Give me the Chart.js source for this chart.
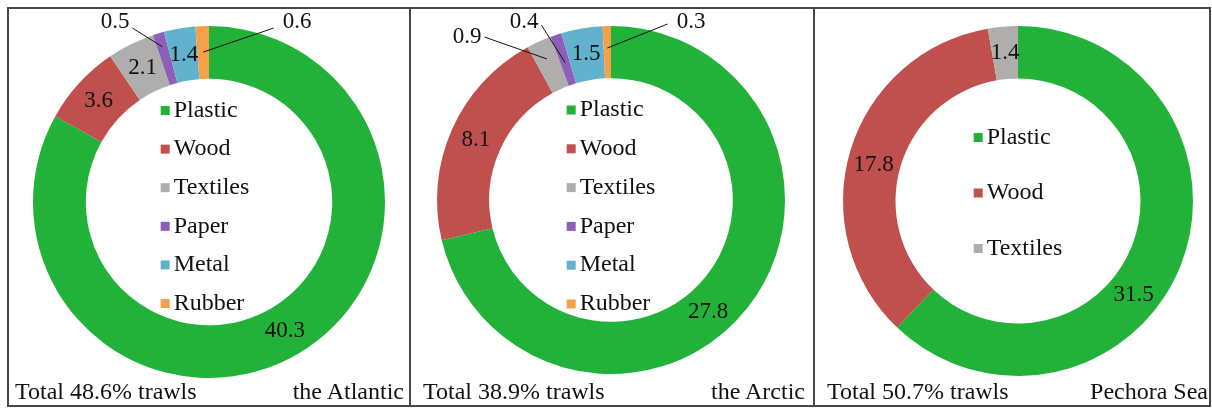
<!DOCTYPE html>
<html>
<head>
<meta charset="utf-8">
<script src="https://cdn.jsdelivr.net/npm/chart.js@4.4.1/dist/chart.umd.min.js"></script>
<style>
  body { margin: 0; background: #fff; }
  #wrap { position: relative; width: 1212px; height: 410px; overflow: hidden; }
  .frame { position: absolute; left: 7px; top: 7px; width: 1204px; height: 400px; box-sizing: border-box; border: 2px solid #474747; }
  .divider { position: absolute; top: 7px; width: 2px; height: 400px; background: #474747; }
  canvas { position: absolute; top: 9px; }
  .cap { position: absolute; top: 379px; font: 24px "Liberation Serif", "Times New Roman", serif; line-height: 24px; color: #111; white-space: nowrap; }
</style>
</head>
<body>
<div id="wrap">
  <div class="frame"></div>
  <div class="divider" style="left:409px"></div>
  <div class="divider" style="left:813px"></div>
  <canvas id="c0" width="400" height="396" style="left:9px"></canvas>
  <canvas id="c1" width="402" height="396" style="left:411px"></canvas>
  <canvas id="c2" width="394" height="396" style="left:815px"></canvas>
</div>
<script>
// data (% of trawls)
const materials = ['Plastic', 'Wood', 'Textiles', 'Paper', 'Metal', 'Rubber'];
const atlanticValues = [40.3, 3.6, 2.1, 0.5, 1.4, 0.6];
const arcticValues = [27.8, 8.1, 0.9, 0.4, 1.5, 0.3];
const pechoraMaterials = ['Plastic', 'Wood', 'Textiles'];
const pechoraValues = [31.5, 17.8, 1.4];
const regionNames = ['the Atlantic', 'the Arctic', 'Pechora Sea'];
const totalShares = [48.6, 38.9, 50.7];

const COLORS = ['#23B239', '#C0504D', '#B0ADAD', '#8E5FB8', '#62B2CD', '#F7A04A'];
const SERIF = '"Liberation Serif", "Times New Roman", serif';

// etiquetas dentro del anillo + leyenda centrada en el hueco
const ringLabels = {
    id: 'ringLabels',
    afterDatasetsDraw(chart, args, opts) {
        const ctx = chart.ctx;
        const meta = chart.getDatasetMeta(0);
        const ds = chart.data.datasets[0];
        ctx.save();
        ctx.font = '23px ' + SERIF;
        ctx.fillStyle = '#111';
        ctx.strokeStyle = '#111';
        ctx.lineWidth = 1;
        ctx.textAlign = 'center';
        ctx.textBaseline = 'middle';
        let cx = 0, cy = 0;
        meta.data.forEach((arc, i) => {
            const p = arc.getProps(['x', 'y', 'startAngle', 'endAngle', 'innerRadius', 'outerRadius'], true);
            cx = p.x; cy = p.y;
            const txt = ds.data[i].toFixed(1);
            let mid = (p.startAngle + p.endAngle) / 2;
            if (opts.angles && opts.angles[i] != null) mid = (opts.angles[i] - 90) * Math.PI / 180;
            const co = (opts.callouts || []).find(c => c.index === i);
            if (co) {
                const lx = p.x + co.dx, ly = p.y + co.dy;
                const ex = p.x + Math.cos(mid) * co.r, ey = p.y + Math.sin(mid) * co.r;
                const w = ctx.measureText(txt).width;
                const sx = lx < ex ? lx + w / 2 + 3 : lx - w / 2 - 9;
                ctx.beginPath();
                ctx.moveTo(sx, ly + co.ly);
                ctx.lineTo(ex, ey);
                ctx.stroke();
                ctx.fillText(txt, lx, ly);
            } else {
                const r = (p.innerRadius + p.outerRadius) / 2;
                ctx.fillText(txt, p.x + Math.cos(mid) * r, p.y + Math.sin(mid) * r);
            }
        });

        // leyenda
        const labels = chart.data.labels;
        ctx.font = '24px ' + SERIF;
        ctx.textAlign = 'left';
        const maxW = Math.max(...labels.map(l => ctx.measureText(l).width));
        const box = 9, gap = 4;
        const left = cx + (opts.legendDx || 0) - (box + gap + maxW) / 2;
        labels.forEach((l, i) => {
            const y = cy + opts.legendShift + (i - (labels.length - 1) / 2) * opts.legendRow;
            ctx.fillStyle = ds.backgroundColor[i];
            ctx.fillRect(left, y - box / 2, box, box);
            ctx.fillStyle = '#111';
            ctx.fillText(l, left + box + gap, y);
        });
        ctx.restore();
    }
};

function renderDonut(canvasId, labels, values, geo, labelOpts) {
    const el = document.getElementById(canvasId);
    const L = parseFloat(el.style.left), W = el.width, T = 9, H = el.height;
    const padding = {
        left: geo.cx - geo.r - L,
        right: L + W - (geo.cx + geo.r),
        top: geo.cy - geo.r - T,
        bottom: T + H - (geo.cy + geo.r)
    };
    return new Chart(el, {
        type: 'doughnut',
        data: {
            labels: labels,
            datasets: [{
                data: values,
                backgroundColor: COLORS.slice(0, values.length),
                borderWidth: 0
            }]
        },
        options: {
            responsive: false,
            animation: false,
            cutout: '70%',
            layout: { padding: padding },
            plugins: {
                legend: { display: false },
                tooltip: { enabled: false },
                ringLabels: labelOpts
            }
        },
        plugins: [ringLabels]
    });
}

renderDonut('c0', materials, atlanticValues, { cx: 209, cy: 202, r: 176 }, {
    legendRow: 38.6, legendShift: 5, legendDx: -4,
    callouts: [
        { index: 3, dx: -94, dy: -180, r: 162, ly: 6 },
        { index: 5, dx: 88, dy: -180, r: 150, ly: 6 }
    ]
});
renderDonut('c1', materials, arcticValues, { cx: 611, cy: 200, r: 174 }, {
    legendRow: 38.8, legendShift: 7,
    angles: { 0: 139 },
    callouts: [
        { index: 2, dx: -144, dy: -163, r: 155, ly: 0 },
        { index: 3, dx: -87, dy: -178, r: 145, ly: 3 },
        { index: 5, dx: 80, dy: -178, r: 152, ly: 2 }
    ]
});
renderDonut('c2', pechoraMaterials, pechoraValues, { cx: 1018, cy: 201, r: 175 }, {
    legendRow: 55.5, legendShift: -8,
    angles: { 0: 129, 1: 284 }
});

// pies de cada panel
const capLeft = [15, 423, 827];
const capRight = [404, 805, 1208];
const wrap = document.getElementById('wrap');
regionNames.forEach((name, i) => {
    const a = document.createElement('div');
    a.className = 'cap';
    a.style.left = capLeft[i] + 'px';
    a.textContent = `Total ${totalShares[i].toFixed(1)}% trawls`;
    wrap.appendChild(a);
    const b = document.createElement('div');
    b.className = 'cap';
    b.style.right = (1212 - capRight[i]) + 'px';
    b.textContent = name;
    wrap.appendChild(b);
});
</script>
</body>
</html>
